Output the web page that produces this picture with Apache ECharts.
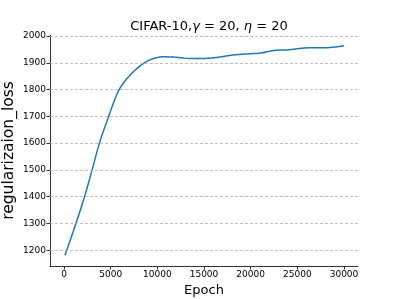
<!DOCTYPE html>
<html><head><meta charset="utf-8">
<script src="https://cdn.jsdelivr.net/npm/echarts@6/dist/echarts.min.js"></script>
<style>html,body{margin:0;padding:0;background:#fff}#c{width:399px;height:299px}</style>
</head><body><div id="c"></div>
<script>
var epochs = [100, 1277, 2200, 3014, 3794, 4787, 5600, 6060, 6770, 7660, 8720, 9790, 10670, 11730, 12600, 13510, 14930, 16350, 18120, 19890, 20960, 22730, 24150, 26280, 27700, 30000];
var losses = [1181, 1300, 1400, 1500, 1600, 1700, 1777, 1809, 1842, 1874, 1903, 1918, 1923, 1922, 1919, 1916, 1916, 1920, 1929, 1934, 1936, 1947, 1949, 1956, 1956, 1964];
var yTicks = [1200, 1300, 1400, 1500, 1600, 1700, 1800, 1900, 2000];
var xTicks = [0, 5000, 10000, 15000, 20000, 25000, 30000];
var titleText = 'CIFAR-10,{i|γ} = 20, {i|η} = 20';
var yName = 'regularizaion_loss';
var xName = 'Epoch';

var data = epochs.map(function(e, i){ return [e, losses[i]]; });
var font = 'DejaVu Sans';
var fmt = function(v){ return String(v); };
var chart = echarts.init(document.getElementById('c'), null, {renderer:'canvas'});
chart.setOption({
  animation:false,
  backgroundColor:'#fff',
  title:{text:titleText, left:204, top:15, textAlign:'center',
    textStyle:{fontFamily:font, fontSize:13, fontWeight:'normal', color:'#000',
      rich:{i:{fontFamily:font, fontStyle:'italic', fontSize:13, color:'#000'}}}},
  grid:{left:50, right:41, top:35, bottom:33, containLabel:false, outerBoundsMode:'none'},
  xAxis:{type:'value', min:-1500, max:31500,
    name:xName, nameLocation:'middle', nameGap:18, nameMoveOverlap:false,
    nameTextStyle:{fontFamily:font, fontSize:13, color:'#000'},
    axisLine:{show:true, onZero:false, lineStyle:{color:'#333', width:1}},
    axisTick:{show:true, length:3.5, customValues:xTicks, lineStyle:{color:'#333'}},
    axisLabel:{customValues:xTicks, formatter:fmt, fontFamily:font, fontSize:9, color:'#000', margin:4},
    splitLine:{show:false}},
  yAxis:{type:'value', min:1141, max:2004,
    name:yName, nameLocation:'middle', nameGap:33, nameMoveOverlap:false,
    nameTextStyle:{fontFamily:font, fontSize:15.5, color:'#000'},
    axisLine:{show:true, onZero:false, lineStyle:{color:'#333', width:1}},
    axisTick:{show:true, length:3.5, customValues:yTicks, lineStyle:{color:'#333'}},
    axisLabel:{customValues:yTicks, formatter:fmt, fontFamily:font, fontSize:9, color:'#000', margin:4},
    splitLine:{show:false}},
  series:[{type:'line', data:data, smooth:0.4, showSymbol:false,
    lineStyle:{color:'#1f77b4', width:1.5}, z:3,
    markLine:{silent:true, symbol:['none','none'], label:{show:false},
      lineStyle:{type:[3,2], color:'#b0b0b0', width:0.8}, animation:false,
      data:yTicks.map(function(v){ return {yAxis:v}; })}}]
});
</script></body></html>
